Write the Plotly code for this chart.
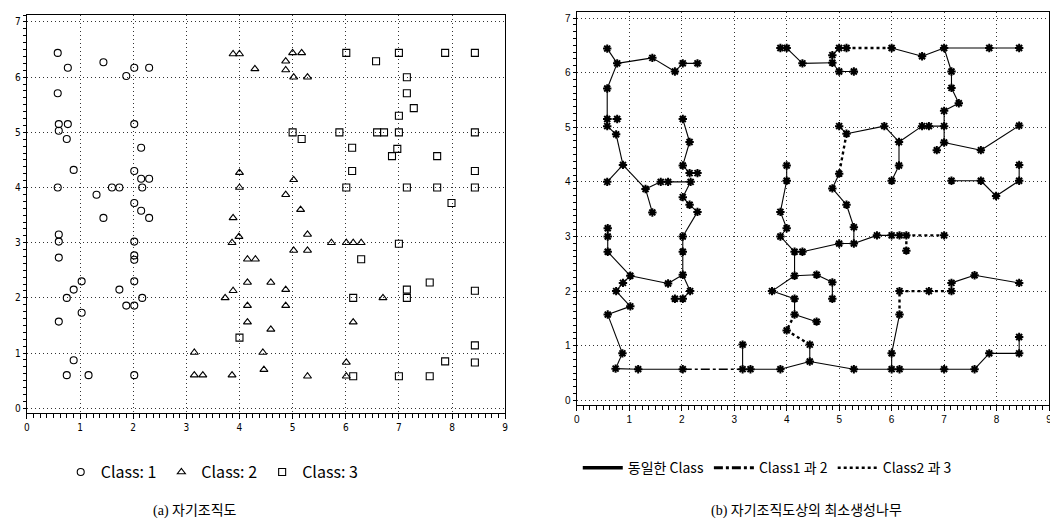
import plotly.graph_objects as go

# ---------------- Data: (a) self-organizing map nodes ----------------
class1_x = [0.58, 0.77, 1.44, 1.87, 2.02, 2.30, 0.58, 0.60, 0.77, 0.60, 0.75, 2.02, 2.15,
            0.88, 0.58, 1.31, 1.44, 1.60, 1.74, 2.02, 2.15, 2.30, 2.17, 2.02, 2.15, 2.30,
            0.60, 0.60, 0.60, 2.02, 2.02, 2.02, 2.02, 1.03, 0.88, 0.75, 1.74, 1.87, 2.02,
            2.17, 1.03, 0.60, 0.88, 0.75, 1.16, 2.02]
class1_y = [6.44, 6.17, 6.27, 6.02, 6.17, 6.17, 5.71, 5.15, 5.15, 5.03, 4.88, 5.15, 4.72,
            4.32, 4.00, 3.87, 3.45, 4.00, 4.00, 4.30, 4.16, 4.16, 4.00, 3.72, 3.58, 3.45,
            3.15, 3.02, 2.73, 3.02, 2.77, 2.69, 2.30, 2.30, 2.15, 2.00, 2.15, 1.86, 1.86,
            2.00, 1.73, 1.57, 0.87, 0.60, 0.60, 0.60]

class2_x = [3.88, 4.00, 4.29, 4.87, 4.87, 5.00, 5.17, 5.02, 5.28,
            4.00, 4.00, 3.88, 5.02, 4.87, 5.15,
            3.99, 3.86, 4.15, 4.30, 4.15, 4.59, 3.88, 3.73, 4.15, 4.15, 4.59, 4.87, 4.87,
            3.15, 4.44, 4.46, 3.15, 3.31, 3.86,
            5.28, 5.02, 5.28, 5.73, 6.01, 6.14, 6.29,
            6.14, 6.01, 5.28, 6.01, 6.70]
class2_y = [6.42, 6.42, 6.15, 6.29, 6.13, 6.44, 6.44, 6.00, 6.00,
            4.27, 4.00, 3.45, 4.14, 3.87, 3.60,
            3.11, 3.00, 2.70, 2.70, 2.28, 2.28, 2.13, 2.00, 1.86, 1.56, 1.43, 2.15, 1.86,
            1.01, 1.01, 0.70, 0.60, 0.60, 0.60,
            3.15, 2.86, 2.86, 3.00, 3.00, 3.00, 3.00,
            1.56, 0.83, 0.58, 0.58, 2.00]

class3_x = [6.01, 6.57, 7.00, 7.87, 8.43, 7.15, 7.15, 7.28, 7.00, 7.00, 5.88, 5.00, 5.17,
            6.59, 6.72, 8.43, 6.12, 6.97, 6.87, 7.72, 6.12, 8.43, 6.01, 7.15, 7.72, 8.43,
            7.99, 7.00, 6.29, 7.58, 7.15, 7.15, 8.43, 6.14, 8.43, 7.87, 8.43, 6.14, 7.00,
            7.58, 4.00]
class3_y = [6.44, 6.29, 6.44, 6.44, 6.44, 6.00, 5.71, 5.44, 5.30, 5.00, 5.00, 5.00, 4.88,
            5.00, 5.00, 5.00, 4.72, 4.70, 4.57, 4.57, 4.30, 4.30, 4.00, 4.00, 4.00, 4.00,
            3.72, 2.98, 2.70, 2.28, 2.15, 2.00, 2.13, 2.00, 1.14, 0.85, 0.83, 0.58, 0.58,
            0.58, 1.28]

# ---------------- Data: (b) minimum spanning tree edges (x1, y1, x2, y2) ----------------
same_class_edges = [
    (0.58, 6.44, 0.77, 6.17), (0.77, 6.17, 1.44, 6.27), (1.44, 6.27, 1.87, 6.02),
    (1.87, 6.02, 2.02, 6.17), (2.02, 6.17, 2.30, 6.17), (0.77, 6.17, 0.58, 5.71),
    (0.58, 5.71, 0.58, 5.15), (0.58, 5.15, 0.77, 5.15), (0.58, 5.15, 0.58, 5.02),
    (0.58, 5.02, 0.75, 4.87), (0.75, 4.87, 0.88, 4.31), (0.88, 4.31, 0.58, 4.00),
    (0.88, 4.31, 1.31, 3.87), (1.31, 3.87, 1.44, 3.44), (1.31, 3.87, 1.60, 4.00),
    (1.60, 4.00, 1.74, 4.00), (1.74, 4.00, 2.17, 4.00), (2.17, 4.00, 2.02, 3.72),
    (2.02, 3.72, 2.15, 3.58), (2.15, 3.58, 2.30, 3.45), (2.30, 3.45, 2.02, 3.00),
    (2.02, 5.15, 2.15, 4.73), (2.15, 4.73, 2.02, 4.30), (2.02, 4.30, 2.15, 4.16),
    (2.15, 4.16, 2.30, 4.16), (2.02, 3.00, 2.02, 2.72), (2.02, 2.72, 2.02, 2.30),
    (2.02, 2.30, 1.74, 2.14), (1.74, 2.14, 1.02, 2.28), (2.02, 2.30, 2.16, 2.00),
    (2.16, 2.00, 2.02, 1.86), (2.02, 1.86, 1.87, 1.86), (1.02, 2.28, 0.88, 2.15),
    (0.88, 2.15, 0.75, 2.00), (0.75, 2.00, 1.02, 1.72), (1.02, 1.72, 0.59, 1.57),
    (0.59, 1.57, 0.87, 0.86), (0.87, 0.86, 0.74, 0.58), (1.02, 2.28, 0.59, 2.72),
    (0.59, 2.72, 0.59, 3.00), (0.59, 3.00, 0.59, 3.15), (0.74, 0.58, 1.17, 0.57),
    (1.17, 0.57, 2.02, 0.57),
    (3.16, 0.57, 3.16, 1.02), (3.16, 0.57, 3.31, 0.57), (3.31, 0.57, 3.88, 0.57),
    (3.88, 0.57, 4.44, 0.71), (4.44, 0.71, 4.44, 1.02), (4.44, 0.71, 5.28, 0.57),
    (5.28, 0.57, 6.00, 0.57), (6.00, 0.57, 6.15, 0.57), (6.15, 0.57, 7.00, 0.57),
    (7.00, 0.57, 7.58, 0.57), (7.58, 0.57, 7.86, 0.86), (7.86, 0.86, 8.43, 0.86),
    (8.43, 0.86, 8.43, 1.16), (6.00, 0.57, 6.00, 0.86), (6.00, 0.86, 6.15, 1.57),
    (7.14, 2.00, 7.14, 2.15), (7.14, 2.15, 7.58, 2.29), (7.58, 2.29, 8.43, 2.15),
    (3.88, 6.45, 4.00, 6.45), (4.00, 6.45, 4.30, 6.17), (4.30, 6.17, 4.87, 6.18),
    (4.87, 6.18, 4.87, 6.32), (4.87, 6.32, 5.00, 6.45), (5.00, 6.45, 5.14, 6.45),
    (4.87, 6.18, 5.00, 6.02), (5.00, 6.02, 5.28, 6.02),
    (6.00, 6.45, 6.58, 6.30), (6.58, 6.30, 7.00, 6.45), (7.00, 6.45, 7.86, 6.45),
    (7.86, 6.45, 8.43, 6.45), (7.00, 6.45, 7.14, 6.02), (7.14, 6.02, 7.14, 5.72),
    (7.14, 5.72, 7.28, 5.44), (7.28, 5.44, 7.00, 5.30), (7.00, 5.30, 7.00, 5.02),
    (7.00, 5.02, 6.71, 5.02), (6.71, 5.02, 6.58, 5.02), (6.58, 5.02, 6.14, 4.73),
    (6.14, 4.73, 5.86, 5.02), (5.86, 5.02, 5.14, 4.88), (5.00, 5.02, 5.14, 4.88),
    (5.00, 4.15, 4.87, 3.88), (4.87, 3.88, 5.14, 3.58), (5.14, 3.58, 5.28, 3.17),
    (5.28, 3.17, 5.28, 2.87), (6.14, 4.73, 6.14, 4.30), (6.14, 4.30, 6.00, 4.02),
    (7.00, 5.02, 7.00, 4.72), (7.00, 4.72, 6.86, 4.58), (7.00, 4.72, 7.70, 4.58),
    (7.70, 4.58, 8.43, 5.03), (7.14, 4.02, 7.70, 4.02), (7.70, 4.02, 7.99, 3.74),
    (7.99, 3.74, 8.43, 4.02), (8.43, 4.02, 8.43, 4.31),
    (4.00, 4.30, 4.00, 4.02), (4.00, 4.02, 3.88, 3.45), (3.88, 3.45, 4.00, 3.15),
    (4.00, 3.15, 3.88, 3.00), (3.88, 3.00, 4.15, 2.72), (4.15, 2.72, 4.30, 2.72),
    (4.15, 2.72, 4.15, 2.28), (4.15, 2.28, 3.72, 2.00), (3.72, 2.00, 4.15, 1.86),
    (4.15, 1.86, 4.15, 1.57), (4.15, 1.57, 4.57, 1.44), (4.15, 2.28, 4.57, 2.30),
    (4.57, 2.30, 4.87, 2.16), (4.87, 2.16, 4.87, 1.86), (4.30, 2.72, 5.00, 2.87),
    (5.00, 2.87, 5.28, 2.87), (5.28, 2.87, 5.72, 3.02), (5.72, 3.02, 6.00, 3.02),
    (6.00, 3.02, 6.15, 3.02),
]
class12_edges = [
    (2.02, 0.57, 3.16, 0.57),
]
class23_edges = [
    (6.15, 1.57, 6.15, 2.00), (6.15, 2.00, 6.71, 2.00), (6.71, 2.00, 7.14, 2.00),
    (5.14, 6.45, 6.00, 6.45), (5.14, 4.88, 5.00, 4.15),
    (6.15, 3.02, 6.28, 3.02), (6.28, 3.02, 7.00, 3.02), (6.28, 3.02, 6.28, 2.74),
    (4.15, 1.57, 4.00, 1.28), (4.00, 1.28, 4.44, 1.02),
]

legend_a_names = ["Class: 1", "Class: 2", "Class: 3"]
legend_b_names = ["동일한 Class", "Class1 과 2", "Class2 과 3"]
captions = ["(a) 자기조직도", "(b) 자기조직도상의 최소생성나무"]


def edge_xy(edges):
    xs, ys = [], []
    for x1, y1, x2, y2 in edges:
        xs += [x1, x2, None]
        ys += [y1, y2, None]
    return xs, ys


def nodes_of(*edge_lists):
    seen = []
    for edges in edge_lists:
        for x1, y1, x2, y2 in edges:
            for p in ((x1, y1), (x2, y2)):
                if p not in seen:
                    seen.append(p)
    return [p[0] for p in seen], [p[1] for p in seen]


fig = go.Figure()

# empty traces first so the fine-tick axes are rendered underneath everything
for xa, ya in [("x3", "y3"), ("x4", "y4")]:
    fig.add_trace(go.Scatter(x=[None], y=[None], mode="markers", xaxis=xa, yaxis=ya,
                             showlegend=False, hoverinfo="skip"))

mk_line = dict(color="black", width=1.1)
symbols = ["circle-open", "triangle-up-open", "square-open"]
for xs, ys, sym, nm in zip([class1_x, class2_x, class3_x], [class1_y, class2_y, class3_y],
                           symbols, legend_a_names):
    fig.add_trace(go.Scatter(
        x=xs, y=ys, mode="markers", xaxis="x", yaxis="y",
        name=nm, legend="legend",
        marker=dict(symbol=sym, size=7, color="black", line=mk_line)))

# MST lines
sx, sy = edge_xy(same_class_edges)
fig.add_trace(go.Scatter(x=sx, y=sy, mode="lines", xaxis="x2", yaxis="y2", showlegend=False,
                         line=dict(color="black", width=1.1)))
dx, dy = edge_xy(class12_edges)
fig.add_trace(go.Scatter(x=dx, y=dy, mode="lines", xaxis="x2", yaxis="y2", showlegend=False,
                         line=dict(color="black", width=1.6, dash="dashdot")))
tx, ty = edge_xy(class23_edges)
fig.add_trace(go.Scatter(x=tx, y=ty, mode="lines", xaxis="x2", yaxis="y2", showlegend=False,
                         line=dict(color="black", width=2.4, dash="dot")))
nx, ny = nodes_of(same_class_edges, class12_edges, class23_edges)
fig.add_trace(go.Scatter(x=nx, y=ny, mode="markers", xaxis="x2", yaxis="y2", showlegend=False,
                         marker=dict(symbol="asterisk-open", size=7, color="black",
                                     line=dict(color="black", width=2))))

# legend-only entries for panel (b)
for name, dash, w in zip(legend_b_names, ["solid", "dashdot", "dot"], [3.5, 3, 2.5]):
    fig.add_trace(go.Scatter(x=[None], y=[None], mode="lines", xaxis="x2", yaxis="y2",
                             name=name, legend="legend2",
                             line=dict(color="black", width=w, dash=dash)))

W, H = 1058, 519
axis_common = dict(
    showline=True, linecolor="black", linewidth=1.3, mirror=True,
    showgrid=True, gridcolor="#333333", griddash="1px,3px", gridwidth=1,
    zeroline=False, ticks="outside", ticklen=5, tickcolor="black", tickwidth=1,
    dtick=1, tick0=0,
)
fine_common = dict(showline=False, showgrid=False, zeroline=False, showticklabels=False,
                   ticks="outside", tickcolor="black", tickwidth=1, dtick=0.125, tick0=0,
                   fixedrange=True)
font_a = dict(family="Liberation Sans Narrow, DejaVu Sans Condensed", size=10, color="black")
font_b = dict(family="Liberation Sans, Arial", size=10, color="black")
xdom_a, ydom_a = [16 / W, 497 / W], [(H - 406) / H, (H - 7) / H]
xdom_b, ydom_b = [569 / W, 1044 / W], [(H - 398) / H, (H - 4) / H]
yr_a, yr_b = [-0.09, 7.127], [-0.09, 7.11]
fig.update_layout(
    width=W, height=H,
    margin=dict(l=0, r=0, t=0, b=0),
    paper_bgcolor="white", plot_bgcolor="rgba(0,0,0,0)",
    xaxis=dict(axis_common, domain=xdom_a, range=[0, 9], anchor="y", tickfont=font_a),
    yaxis=dict(axis_common, domain=ydom_a, range=yr_a, anchor="x", ticklen=3, tickfont=font_a),
    xaxis2=dict(axis_common, domain=xdom_b, range=[0, 9], anchor="y2", tickfont=font_b),
    yaxis2=dict(axis_common, domain=ydom_b, range=yr_b, anchor="x2", ticklen=3, tickfont=font_b),
    xaxis3=dict(fine_common, domain=xdom_a, anchor="y3", side="bottom", range=[0, 9], ticklen=4),
    yaxis3=dict(fine_common, domain=ydom_a, anchor="x3", side="left", range=yr_a, ticklen=3),
    xaxis4=dict(fine_common, domain=xdom_b, anchor="y4", side="bottom", range=[0, 9], ticklen=4),
    yaxis4=dict(fine_common, domain=ydom_b, anchor="x4", side="left", range=yr_b, ticklen=3),
    legend=dict(orientation="h", x=50 / W, xanchor="left", y=(H - 465) / H, yanchor="middle",
                bgcolor="rgba(0,0,0,0)", itemwidth=30, tracegroupgap=0,
                font=dict(family="Liberation Sans Narrow, Noto Sans CJK KR", size=16, color="black")),
    legend2=dict(orientation="h", x=570 / W, xanchor="left", y=(H - 461) / H, yanchor="middle",
                 bgcolor="rgba(0,0,0,0)", itemwidth=40,
                 font=dict(family="Liberation Sans Narrow, Noto Sans CJK KR", size=14, color="black")),
    annotations=[
        dict(text=captions[0], x=185 / W, y=(H - 504) / H, xref="paper", yref="paper",
             showarrow=False, xanchor="center", yanchor="middle",
             font=dict(family="Liberation Serif, Noto Sans CJK KR", size=14, color="black")),
        dict(text=captions[1], x=800 / W, y=(H - 504) / H, xref="paper", yref="paper",
             showarrow=False, xanchor="center", yanchor="middle",
             font=dict(family="Liberation Serif, Noto Sans CJK KR", size=14, color="black")),
    ],
)

fig.write_html("out.html")
